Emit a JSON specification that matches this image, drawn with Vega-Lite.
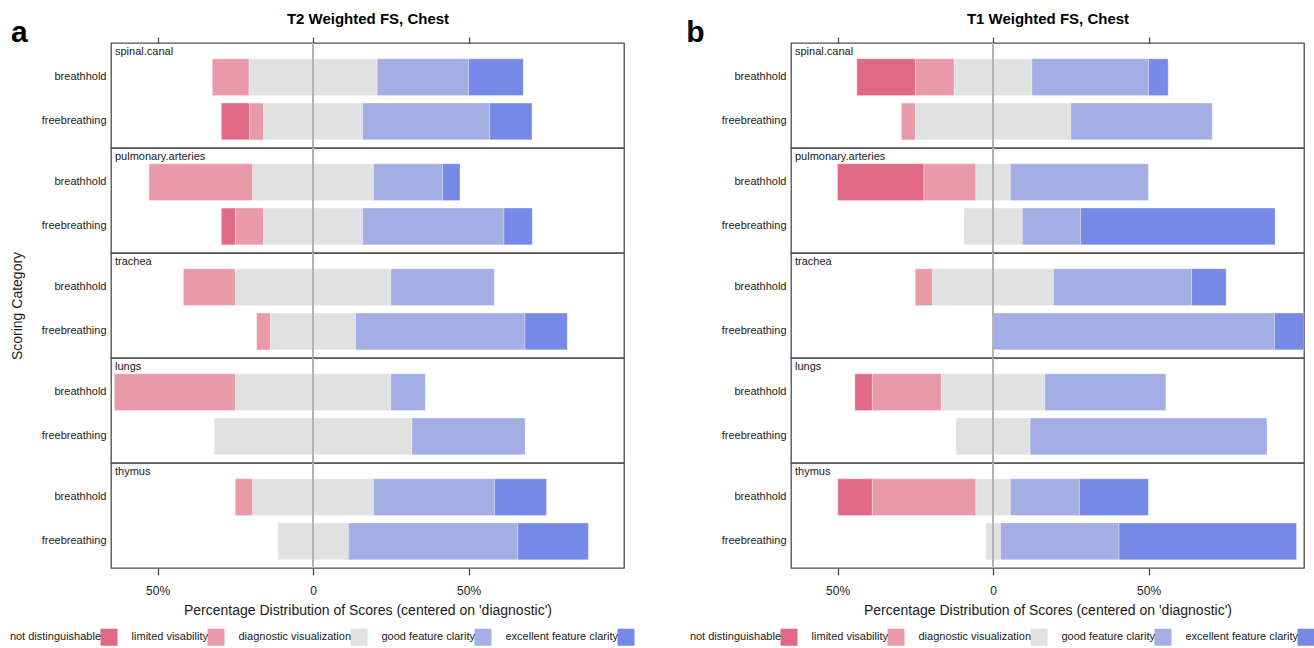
{
  "$schema": "https://vega.github.io/schema/vega-lite/v6.json",
  "background": "white",
  "padding": {"left": 10, "top": 11, "right": 4, "bottom": 2},
  "config": {
    "font": "Liberation Sans",
    "view": {"stroke": "#4d4d4d", "strokeWidth": 1.3},
    "axis": {"labelColor": "#1a1a1a", "titleColor": "#1a1a1a"},
    "legend": {"labelColor": "#1a1a1a"}
  },
  "datasets": {
    "t2": [
      {"organ": "spinal.canal", "mode": "breathhold", "score": "limited visability", "rank": 1, "pct": -11.8},
      {"organ": "spinal.canal", "mode": "breathhold", "score": "diagnostic visualization", "rank": 0, "pct": -20.6},
      {"organ": "spinal.canal", "mode": "breathhold", "score": "diagnostic visualization", "rank": 0, "pct": 20.6},
      {"organ": "spinal.canal", "mode": "breathhold", "score": "good feature clarity", "rank": 1, "pct": 29.4},
      {"organ": "spinal.canal", "mode": "breathhold", "score": "excellent feature clarity", "rank": 2, "pct": 17.6},
      {"organ": "spinal.canal", "mode": "freebreathing", "score": "not distinguishable", "rank": 2, "pct": -9.1},
      {"organ": "spinal.canal", "mode": "freebreathing", "score": "limited visability", "rank": 1, "pct": -4.5},
      {"organ": "spinal.canal", "mode": "freebreathing", "score": "diagnostic visualization", "rank": 0, "pct": -15.9},
      {"organ": "spinal.canal", "mode": "freebreathing", "score": "diagnostic visualization", "rank": 0, "pct": 15.9},
      {"organ": "spinal.canal", "mode": "freebreathing", "score": "good feature clarity", "rank": 1, "pct": 40.9},
      {"organ": "spinal.canal", "mode": "freebreathing", "score": "excellent feature clarity", "rank": 2, "pct": 13.6},
      {"organ": "pulmonary.arteries", "mode": "breathhold", "score": "limited visability", "rank": 1, "pct": -33.3},
      {"organ": "pulmonary.arteries", "mode": "breathhold", "score": "diagnostic visualization", "rank": 0, "pct": -19.45},
      {"organ": "pulmonary.arteries", "mode": "breathhold", "score": "diagnostic visualization", "rank": 0, "pct": 19.45},
      {"organ": "pulmonary.arteries", "mode": "breathhold", "score": "good feature clarity", "rank": 1, "pct": 22.2},
      {"organ": "pulmonary.arteries", "mode": "breathhold", "score": "excellent feature clarity", "rank": 2, "pct": 5.6},
      {"organ": "pulmonary.arteries", "mode": "freebreathing", "score": "not distinguishable", "rank": 2, "pct": -4.5},
      {"organ": "pulmonary.arteries", "mode": "freebreathing", "score": "limited visability", "rank": 1, "pct": -9.1},
      {"organ": "pulmonary.arteries", "mode": "freebreathing", "score": "diagnostic visualization", "rank": 0, "pct": -15.9},
      {"organ": "pulmonary.arteries", "mode": "freebreathing", "score": "diagnostic visualization", "rank": 0, "pct": 15.9},
      {"organ": "pulmonary.arteries", "mode": "freebreathing", "score": "good feature clarity", "rank": 1, "pct": 45.5},
      {"organ": "pulmonary.arteries", "mode": "freebreathing", "score": "excellent feature clarity", "rank": 2, "pct": 9.1},
      {"organ": "trachea", "mode": "breathhold", "score": "limited visability", "rank": 1, "pct": -16.7},
      {"organ": "trachea", "mode": "breathhold", "score": "diagnostic visualization", "rank": 0, "pct": -25.0},
      {"organ": "trachea", "mode": "breathhold", "score": "diagnostic visualization", "rank": 0, "pct": 25.0},
      {"organ": "trachea", "mode": "breathhold", "score": "good feature clarity", "rank": 1, "pct": 33.3},
      {"organ": "trachea", "mode": "freebreathing", "score": "limited visability", "rank": 1, "pct": -4.5},
      {"organ": "trachea", "mode": "freebreathing", "score": "diagnostic visualization", "rank": 0, "pct": -13.65},
      {"organ": "trachea", "mode": "freebreathing", "score": "diagnostic visualization", "rank": 0, "pct": 13.65},
      {"organ": "trachea", "mode": "freebreathing", "score": "good feature clarity", "rank": 1, "pct": 54.5},
      {"organ": "trachea", "mode": "freebreathing", "score": "excellent feature clarity", "rank": 2, "pct": 13.6},
      {"organ": "lungs", "mode": "breathhold", "score": "limited visability", "rank": 1, "pct": -38.9},
      {"organ": "lungs", "mode": "breathhold", "score": "diagnostic visualization", "rank": 0, "pct": -25.0},
      {"organ": "lungs", "mode": "breathhold", "score": "diagnostic visualization", "rank": 0, "pct": 25.0},
      {"organ": "lungs", "mode": "breathhold", "score": "good feature clarity", "rank": 1, "pct": 11.1},
      {"organ": "lungs", "mode": "freebreathing", "score": "diagnostic visualization", "rank": 0, "pct": -31.8},
      {"organ": "lungs", "mode": "freebreathing", "score": "diagnostic visualization", "rank": 0, "pct": 31.8},
      {"organ": "lungs", "mode": "freebreathing", "score": "good feature clarity", "rank": 1, "pct": 36.4},
      {"organ": "thymus", "mode": "breathhold", "score": "limited visability", "rank": 1, "pct": -5.6},
      {"organ": "thymus", "mode": "breathhold", "score": "diagnostic visualization", "rank": 0, "pct": -19.45},
      {"organ": "thymus", "mode": "breathhold", "score": "diagnostic visualization", "rank": 0, "pct": 19.45},
      {"organ": "thymus", "mode": "breathhold", "score": "good feature clarity", "rank": 1, "pct": 38.9},
      {"organ": "thymus", "mode": "breathhold", "score": "excellent feature clarity", "rank": 2, "pct": 16.7},
      {"organ": "thymus", "mode": "freebreathing", "score": "diagnostic visualization", "rank": 0, "pct": -11.35},
      {"organ": "thymus", "mode": "freebreathing", "score": "diagnostic visualization", "rank": 0, "pct": 11.35},
      {"organ": "thymus", "mode": "freebreathing", "score": "good feature clarity", "rank": 1, "pct": 54.5},
      {"organ": "thymus", "mode": "freebreathing", "score": "excellent feature clarity", "rank": 2, "pct": 22.7}
    ],
    "t1": [
      {"organ": "spinal.canal", "mode": "breathhold", "score": "not distinguishable", "rank": 2, "pct": -18.8},
      {"organ": "spinal.canal", "mode": "breathhold", "score": "limited visability", "rank": 1, "pct": -12.5},
      {"organ": "spinal.canal", "mode": "breathhold", "score": "diagnostic visualization", "rank": 0, "pct": -12.5},
      {"organ": "spinal.canal", "mode": "breathhold", "score": "diagnostic visualization", "rank": 0, "pct": 12.5},
      {"organ": "spinal.canal", "mode": "breathhold", "score": "good feature clarity", "rank": 1, "pct": 37.5},
      {"organ": "spinal.canal", "mode": "breathhold", "score": "excellent feature clarity", "rank": 2, "pct": 6.3},
      {"organ": "spinal.canal", "mode": "freebreathing", "score": "limited visability", "rank": 1, "pct": -4.5},
      {"organ": "spinal.canal", "mode": "freebreathing", "score": "diagnostic visualization", "rank": 0, "pct": -25.0},
      {"organ": "spinal.canal", "mode": "freebreathing", "score": "diagnostic visualization", "rank": 0, "pct": 25.0},
      {"organ": "spinal.canal", "mode": "freebreathing", "score": "good feature clarity", "rank": 1, "pct": 45.5},
      {"organ": "pulmonary.arteries", "mode": "breathhold", "score": "not distinguishable", "rank": 2, "pct": -27.8},
      {"organ": "pulmonary.arteries", "mode": "breathhold", "score": "limited visability", "rank": 1, "pct": -16.7},
      {"organ": "pulmonary.arteries", "mode": "breathhold", "score": "diagnostic visualization", "rank": 0, "pct": -5.55},
      {"organ": "pulmonary.arteries", "mode": "breathhold", "score": "diagnostic visualization", "rank": 0, "pct": 5.55},
      {"organ": "pulmonary.arteries", "mode": "breathhold", "score": "good feature clarity", "rank": 1, "pct": 44.4},
      {"organ": "pulmonary.arteries", "mode": "freebreathing", "score": "diagnostic visualization", "rank": 0, "pct": -9.4},
      {"organ": "pulmonary.arteries", "mode": "freebreathing", "score": "diagnostic visualization", "rank": 0, "pct": 9.4},
      {"organ": "pulmonary.arteries", "mode": "freebreathing", "score": "good feature clarity", "rank": 1, "pct": 18.8},
      {"organ": "pulmonary.arteries", "mode": "freebreathing", "score": "excellent feature clarity", "rank": 2, "pct": 62.5},
      {"organ": "trachea", "mode": "breathhold", "score": "limited visability", "rank": 1, "pct": -5.6},
      {"organ": "trachea", "mode": "breathhold", "score": "diagnostic visualization", "rank": 0, "pct": -19.45},
      {"organ": "trachea", "mode": "breathhold", "score": "diagnostic visualization", "rank": 0, "pct": 19.45},
      {"organ": "trachea", "mode": "breathhold", "score": "good feature clarity", "rank": 1, "pct": 44.4},
      {"organ": "trachea", "mode": "breathhold", "score": "excellent feature clarity", "rank": 2, "pct": 11.1},
      {"organ": "trachea", "mode": "freebreathing", "score": "good feature clarity", "rank": 1, "pct": 90.5},
      {"organ": "trachea", "mode": "freebreathing", "score": "excellent feature clarity", "rank": 2, "pct": 9.5},
      {"organ": "lungs", "mode": "breathhold", "score": "not distinguishable", "rank": 2, "pct": -5.6},
      {"organ": "lungs", "mode": "breathhold", "score": "limited visability", "rank": 1, "pct": -22.2},
      {"organ": "lungs", "mode": "breathhold", "score": "diagnostic visualization", "rank": 0, "pct": -16.65},
      {"organ": "lungs", "mode": "breathhold", "score": "diagnostic visualization", "rank": 0, "pct": 16.65},
      {"organ": "lungs", "mode": "breathhold", "score": "good feature clarity", "rank": 1, "pct": 38.9},
      {"organ": "lungs", "mode": "freebreathing", "score": "diagnostic visualization", "rank": 0, "pct": -11.9},
      {"organ": "lungs", "mode": "freebreathing", "score": "diagnostic visualization", "rank": 0, "pct": 11.9},
      {"organ": "lungs", "mode": "freebreathing", "score": "good feature clarity", "rank": 1, "pct": 76.2},
      {"organ": "thymus", "mode": "breathhold", "score": "not distinguishable", "rank": 2, "pct": -11.1},
      {"organ": "thymus", "mode": "breathhold", "score": "limited visability", "rank": 1, "pct": -33.3},
      {"organ": "thymus", "mode": "breathhold", "score": "diagnostic visualization", "rank": 0, "pct": -5.55},
      {"organ": "thymus", "mode": "breathhold", "score": "diagnostic visualization", "rank": 0, "pct": 5.55},
      {"organ": "thymus", "mode": "breathhold", "score": "good feature clarity", "rank": 1, "pct": 22.2},
      {"organ": "thymus", "mode": "breathhold", "score": "excellent feature clarity", "rank": 2, "pct": 22.2},
      {"organ": "thymus", "mode": "freebreathing", "score": "diagnostic visualization", "rank": 0, "pct": -2.4},
      {"organ": "thymus", "mode": "freebreathing", "score": "diagnostic visualization", "rank": 0, "pct": 2.4},
      {"organ": "thymus", "mode": "freebreathing", "score": "good feature clarity", "rank": 1, "pct": 38.1},
      {"organ": "thymus", "mode": "freebreathing", "score": "excellent feature clarity", "rank": 2, "pct": 57.1}
    ]
  },
  "hconcat": [
    {
      "data": {"name": "t2"},
      "title": {"text": "a", "anchor": "start", "frame": "bounds", "fontSize": 30, "fontWeight": "bold", "color": "#000000", "offset": -37},
      "facet": {"row": {"field": "organ", "type": "nominal", "sort": ["spinal.canal", "pulmonary.arteries", "trachea", "lungs", "thymus"], "header": {"labels": false, "title": "Scoring Category", "titleFontSize": 14, "titleFontWeight": "normal", "titleColor": "#1a1a1a", "titlePadding": 6}}},
      "spacing": 0,
      "bounds": "flush",
      "spec": {
        "width": 513,
        "height": 105,
        "layer": [
          {
            "mark": {"type": "bar", "stroke": "#ffffff", "strokeWidth": 0.6, "strokeOpacity": 0.5},
            "encoding": {
              "x": {"field": "pct", "type": "quantitative", "stack": "zero", "scale": {"domain": [-65, 100], "nice": false, "zero": false},
                "axis": {"orient": "bottom", "values": [-50, 0, 50], "labelExpr": "datum.value == 0 ? '0' : abs(datum.value) + '%'", "title": "Percentage Distribution of Scores (centered on 'diagnostic')", "titleFontSize": 14, "titleFontWeight": "normal", "labelFontSize": 12, "tickSize": 7, "tickColor": "#4d4d4d", "tickWidth": 1.3, "domain": false, "grid": false, "labelPadding": 10, "titlePadding": 7}},
              "y": {"field": "mode", "type": "nominal", "sort": ["breathhold", "freebreathing"], "scale": {"paddingInner": 0.17, "paddingOuter": 0.27, "align": 0.66},
                "axis": {"title": null, "ticks": false, "domain": false, "labelFontSize": 11, "labelPadding": 5}},
              "color": {"field": "score", "type": "nominal", "scale": {"domain": ["not distinguishable", "limited visability", "diagnostic visualization", "good feature clarity", "excellent feature clarity"], "range": ["#e06a86", "#e89aa9", "#e1e1e1", "#a2aee4", "#7689e6"]},
                "legend": {"title": null, "orient": "none", "legendX": -11, "legendY": 585, "direction": "horizontal", "symbolType": "square", "symbolSize": 290, "symbolStrokeWidth": 0, "labelFontSize": 11, "labelAlign": "right", "labelOffset": -17, "columnPadding": 13}},
              "order": {"field": "rank", "type": "quantitative"}
            }
          },
          {
            "mark": {"type": "rule", "color": "#b4b4b4", "strokeWidth": 1.5},
            "encoding": {"x": {"datum": 0, "type": "quantitative", "axis": {"orient": "top", "values": [-50, 0, 50], "labels": false, "title": "T2 Weighted FS, Chest", "titleFontSize": 15, "titleFontWeight": "bold", "titleColor": "#000000", "titlePadding": 10, "domain": false, "grid": false, "tickSize": 6, "tickColor": "#4d4d4d", "tickWidth": 1.3}}}
          },
          {
            "transform": [
              {"filter": "datum.mode == 'breathhold'"},
              {"aggregate": [{"op": "count", "as": "n"}], "groupby": ["organ", "mode"]}
            ],
            "mark": {"type": "text", "align": "left", "baseline": "alphabetic", "dx": 4, "dy": -4, "fontSize": 11, "color": "#1a1a1a"},
            "encoding": {
              "x": {"datum": -65, "type": "quantitative", "axis": null},
              "y": {"field": "mode", "type": "nominal", "bandPosition": 0},
              "text": {"field": "organ"}
            }
          }
        ]
      }
    },
    {
      "data": {"name": "t1"},
      "title": {"text": "b", "anchor": "start", "frame": "bounds", "fontSize": 30, "fontWeight": "bold", "color": "#000000", "offset": -37, "dx": -35},
      "facet": {"row": {"field": "organ", "type": "nominal", "sort": ["spinal.canal", "pulmonary.arteries", "trachea", "lungs", "thymus"], "header": {"labels": false, "title": null}}},
      "spacing": 0,
      "bounds": "flush",
      "spec": {
        "width": 513,
        "height": 105,
        "layer": [
          {
            "mark": {"type": "bar", "stroke": "#ffffff", "strokeWidth": 0.6, "strokeOpacity": 0.5},
            "encoding": {
              "x": {"field": "pct", "type": "quantitative", "stack": "zero", "scale": {"domain": [-65, 100], "nice": false, "zero": false},
                "axis": {"orient": "bottom", "values": [-50, 0, 50], "labelExpr": "datum.value == 0 ? '0' : abs(datum.value) + '%'", "title": "Percentage Distribution of Scores (centered on 'diagnostic')", "titleFontSize": 14, "titleFontWeight": "normal", "labelFontSize": 12, "tickSize": 7, "tickColor": "#4d4d4d", "tickWidth": 1.3, "domain": false, "grid": false, "labelPadding": 10, "titlePadding": 7}},
              "y": {"field": "mode", "type": "nominal", "sort": ["breathhold", "freebreathing"], "scale": {"paddingInner": 0.17, "paddingOuter": 0.27, "align": 0.66},
                "axis": {"title": null, "ticks": false, "domain": false, "labelFontSize": 11, "labelPadding": 5}},
              "color": {"field": "score", "type": "nominal", "scale": {"domain": ["not distinguishable", "limited visability", "diagnostic visualization", "good feature clarity", "excellent feature clarity"], "range": ["#e06a86", "#e89aa9", "#e1e1e1", "#a2aee4", "#7689e6"]},
                "legend": {"title": null, "orient": "none", "legendX": -11, "legendY": 585, "direction": "horizontal", "symbolType": "square", "symbolSize": 290, "symbolStrokeWidth": 0, "labelFontSize": 11, "labelAlign": "right", "labelOffset": -17, "columnPadding": 13}},
              "order": {"field": "rank", "type": "quantitative"}
            }
          },
          {
            "mark": {"type": "rule", "color": "#b4b4b4", "strokeWidth": 1.5},
            "encoding": {"x": {"datum": 0, "type": "quantitative", "axis": {"orient": "top", "values": [-50, 0, 50], "labels": false, "title": "T1 Weighted FS, Chest", "titleFontSize": 15, "titleFontWeight": "bold", "titleColor": "#000000", "titlePadding": 10, "domain": false, "grid": false, "tickSize": 6, "tickColor": "#4d4d4d", "tickWidth": 1.3}}}
          },
          {
            "transform": [
              {"filter": "datum.mode == 'breathhold'"},
              {"aggregate": [{"op": "count", "as": "n"}], "groupby": ["organ", "mode"]}
            ],
            "mark": {"type": "text", "align": "left", "baseline": "alphabetic", "dx": 4, "dy": -4, "fontSize": 11, "color": "#1a1a1a"},
            "encoding": {
              "x": {"datum": -65, "type": "quantitative", "axis": null},
              "y": {"field": "mode", "type": "nominal", "bandPosition": 0},
              "text": {"field": "organ"}
            }
          }
        ]
      }
    }
  ],
  "spacing": 51,
  "resolve": {"scale": {"color": "independent"}, "legend": {"color": "independent"}}
}
